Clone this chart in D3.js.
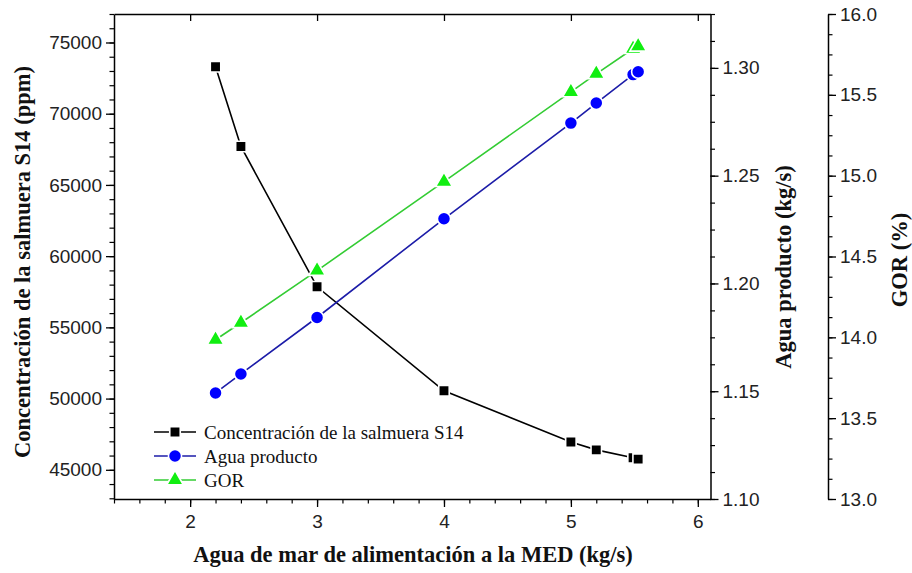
<!DOCTYPE html>
<html>
<head>
<meta charset="utf-8">
<script src="https://cdn.jsdelivr.net/npm/d3@7"></script>
<style>
  html, body { margin: 0; padding: 0; background: #fff; }
  svg { display: block; }
  .tick text { font-family: "Liberation Sans", Arial, sans-serif; font-size: 19px; fill: #222; }
  .title { font-family: "Liberation Serif", "Times New Roman", serif; font-weight: bold; font-size: 22.5px; fill: #111; }
  .legend { font-family: "Liberation Serif", "Times New Roman", serif; font-size: 19px; fill: #111; }
</style>
</head>
<body>
<svg id="chart" width="912" height="573"></svg>
<script>
// Sea-water feed to the MED unit (kg/s)
const feed = [2.2, 2.4, 3.0, 4.0, 5.0, 5.2, 5.49, 5.53];
// Brine concentration at stream S14 (ppm)
const brine = [73300, 67700, 57850, 50550, 46950, 46400, 45850, 45750];
// Product water (kg/s)
const product = [1.1492, 1.158, 1.1842, 1.2300, 1.2744, 1.2837, 1.2969, 1.2982];
// Gain output ratio
const gor = [13.985, 14.09, 14.413, 14.963, 15.518, 15.63, 15.785, 15.80];

const xTicks = [2, 3, 4, 5, 6];
const brineTicks = [45000, 50000, 55000, 60000, 65000, 70000, 75000];
const productTicks = [1.10, 1.15, 1.20, 1.25, 1.30];
const gorTicks = [13.0, 13.5, 14.0, 14.5, 15.0, 15.5, 16.0];

const seriesNames = ["Concentración de la salmuera S14", "Agua producto", "GOR"];

const m = { left: 114, right: 710.5, top: 14, bottom: 499 };
const gorAxisX = 828;

const svg = d3.select("#chart");

const x = d3.scaleLinear().domain([1.4, 6.1]).range([m.left, m.right]);
const yB = d3.scaleLinear().domain([42950, 77000]).range([m.bottom, m.top]);
const yP = d3.scaleLinear().domain([1.10, 1.325]).range([m.bottom, m.top]);
const yG = d3.scaleLinear().domain([13, 16]).range([m.bottom, m.top]);

const range = (a, b, s) => d3.range(Math.round((b - a) / s) + 1).map(i => +(a + i * s).toFixed(6));

function styleAxis(g) {
  g.selectAll("path.domain").attr("stroke", "#000").attr("stroke-width", 1.5);
  g.selectAll(".tick line").attr("stroke", "#000").attr("stroke-width", 1.3);
}

// minor ticks (drawn first, majors on top)
function minor(axisGen, scale, values, transform) {
  const g = svg.append("g").attr("transform", transform)
    .call(axisGen(scale).tickValues(values).tickSize(4.5).tickFormat(""));
  g.select("path.domain").remove();
  g.selectAll(".tick line").attr("stroke", "#000").attr("stroke-width", 1.2);
}

// X axis (bottom)
minor(d3.axisBottom, x, range(1.4, 6.0, 0.2), `translate(0,${m.bottom})`);
const gx = svg.append("g").attr("transform", `translate(0,${m.bottom})`)
  .call(d3.axisBottom(x).tickValues(xTicks).tickSize(8).tickPadding(8).tickSizeOuter(0).tickFormat(d3.format("d")));
styleAxis(gx);

// top frame with inward major ticks
const gt = svg.append("g").attr("transform", `translate(0,${m.top})`)
  .call(d3.axisBottom(x).tickValues(xTicks).tickSize(7).tickSizeOuter(0).tickFormat(""));
styleAxis(gt);

// Left axis: brine concentration
minor(d3.axisLeft, yB, range(43000, 77000, 1000), `translate(${m.left},0)`);
const gl = svg.append("g").attr("transform", `translate(${m.left},0)`)
  .call(d3.axisLeft(yB).tickValues(brineTicks).tickSize(8).tickPadding(4).tickSizeOuter(0).tickFormat(d3.format("d")));
styleAxis(gl);

// Right axis: product water
minor(d3.axisRight, yP, range(1.1, 1.325, 0.0125), `translate(${m.right},0)`);
const gr = svg.append("g").attr("transform", `translate(${m.right},0)`)
  .call(d3.axisRight(yP).tickValues(productTicks).tickSize(8).tickPadding(4).tickSizeOuter(0).tickFormat(d3.format(".2f")));
styleAxis(gr);

// Offset axis: GOR
minor(d3.axisRight, yG, range(13, 16, 0.125), `translate(${gorAxisX},0)`);
const gg = svg.append("g").attr("transform", `translate(${gorAxisX},0)`)
  .call(d3.axisRight(yG).tickValues(gorTicks).tickSize(8).tickPadding(4).tickSizeOuter(0).tickFormat(d3.format(".1f")));
styleAxis(gg);

// Axis titles
svg.append("text").attr("class", "title")
  .attr("transform", `translate(30,262) rotate(-90)`)
  .attr("text-anchor", "middle").text("Concentración de la salmuera S14 (ppm)");
svg.append("text").attr("class", "title")
  .attr("transform", `translate(791,267) rotate(-90)`)
  .attr("text-anchor", "middle").text("Agua producto (kg/s)");
svg.append("text").attr("class", "title")
  .attr("transform", `translate(907,260) rotate(-90)`)
  .attr("text-anchor", "middle").text("GOR (%)");
svg.append("text").attr("class", "title")
  .attr("x", 413).attr("y", 562)
  .attr("text-anchor", "middle").text("Agua de mar de alimentación a la MED (kg/s)");

// Series definitions
const series = [
  { name: seriesNames[0], vals: brine, y: yB, line: "#000000", fill: "#000000", shape: d3.symbolSquare, size: 110 },
  { name: seriesNames[1], vals: product, y: yP, line: "#1c1ca8", fill: "#0000ff", shape: d3.symbolCircle, size: 135 },
  { name: seriesNames[2], vals: gor, y: yG, line: "#33cc33", fill: "#11ee11", shape: d3.symbolTriangle, size: 120 }
];

series.forEach(s => {
  const pts = feed.map((f, i) => [x(f), s.y(s.vals[i])]);
  svg.append("path")
    .attr("d", d3.line()(pts))
    .attr("fill", "none").attr("stroke", s.line).attr("stroke-width", 1.6);
  svg.append("g").selectAll("path").data(pts).join("path")
    .attr("transform", d => `translate(${d[0]},${d[1]})`)
    .attr("d", d3.symbol().type(s.shape).size(s.size))
    .attr("fill", s.fill).attr("stroke", "#fff").attr("stroke-width", 1.6);
});

// Legend
const lg = svg.append("g").attr("transform", "translate(154,432)");
series.forEach((s, i) => {
  const row = lg.append("g").attr("transform", `translate(0,${i * 24})`);
  row.append("line").attr("x1", 0).attr("x2", 42).attr("y1", 0).attr("y2", 0)
    .attr("stroke", s.line).attr("stroke-width", 1.6);
  row.append("path").attr("transform", "translate(21,0)")
    .attr("d", d3.symbol().type(s.shape).size(s.size))
    .attr("fill", s.fill).attr("stroke", "#fff").attr("stroke-width", 1.6);
  row.append("text").attr("class", "legend").attr("x", 50).attr("y", 0)
    .attr("dy", "0.35em").text(s.name);
});
</script>
</body>
</html>
